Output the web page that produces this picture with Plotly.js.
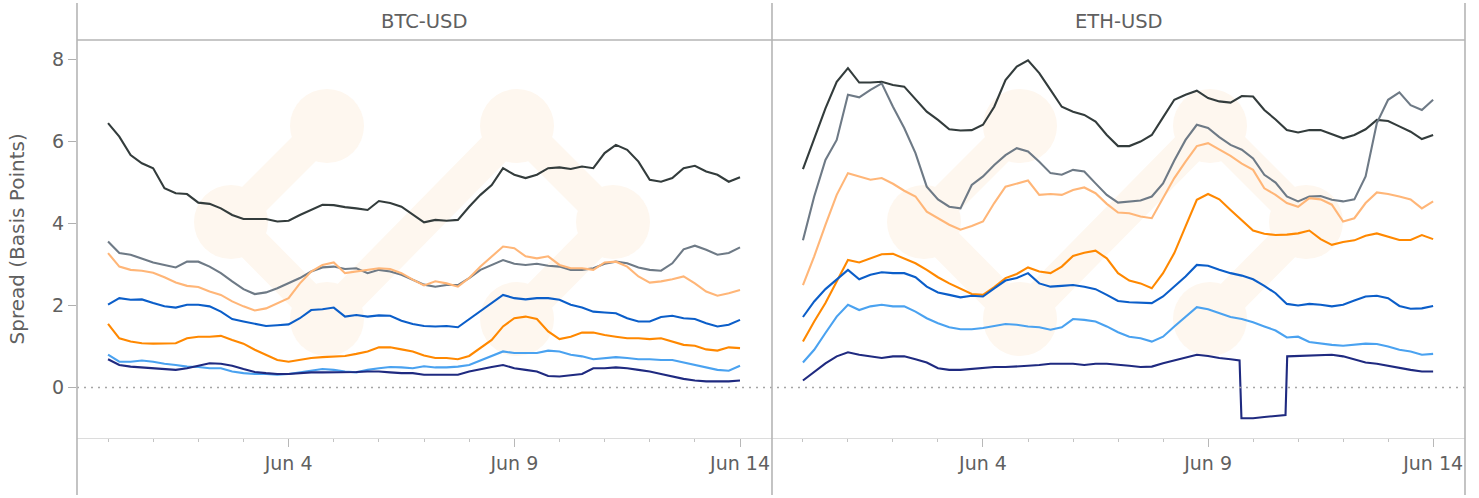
<!DOCTYPE html>
<html>
<head>
<meta charset="utf-8">
<script src="https://cdn.plot.ly/plotly-3.0.1.min.js"></script>
<style>html,body{margin:0;padding:0;background:#fff;}#chart{width:1479px;height:498px;}</style>
</head>
<body>
<div id="chart"></div>
<script>
// ---- Data (spread in basis points, sampled every 6 hours from May 31 00:00 to Jun 14 00:00) ----
const panels = ["BTC-USD", "ETH-USD"];
const seriesNames = ["Series 1", "Series 2", "Series 3", "Series 4", "Series 5", "Series 6", "Series 7"];
const seriesColors = ["#333c3c", "#6e7a86", "#ffb678", "#ff8800", "#0b5ec9", "#4aa2f0", "#1f2a80"];
const startDate = "2023-05-31";
const stepHours = 6;

const btcDark = [6.45,6.12,5.67,5.47,5.35,4.86,4.74,4.72,4.51,4.48,4.37,4.21,4.11,4.11,4.11,4.05,4.07,4.21,4.33,4.46,4.45,4.40,4.37,4.33,4.55,4.50,4.41,4.21,4.03,4.09,4.07,4.09,4.41,4.70,4.94,5.35,5.19,5.11,5.19,5.35,5.37,5.33,5.39,5.35,5.72,5.92,5.80,5.51,5.07,5.02,5.11,5.35,5.41,5.27,5.19,5.02,5.13];
const btcGray = [3.56,3.28,3.24,3.15,3.05,2.99,2.93,3.07,3.07,2.95,2.79,2.59,2.40,2.28,2.32,2.42,2.54,2.67,2.83,2.93,2.95,2.89,2.91,2.79,2.87,2.83,2.75,2.63,2.51,2.46,2.50,2.50,2.67,2.87,2.99,3.11,3.02,2.99,3.02,2.97,2.95,2.87,2.87,2.91,3.02,3.07,3.03,2.93,2.87,2.85,3.03,3.37,3.46,3.36,3.24,3.28,3.42];
const btcLightOrange = [3.28,2.95,2.87,2.85,2.80,2.69,2.56,2.48,2.45,2.34,2.26,2.10,1.98,1.88,1.93,2.06,2.18,2.54,2.83,2.99,3.05,2.79,2.83,2.87,2.91,2.89,2.79,2.63,2.49,2.59,2.54,2.46,2.67,2.95,3.20,3.44,3.40,3.20,3.15,3.20,2.99,2.91,2.91,2.87,3.05,3.07,2.95,2.71,2.56,2.59,2.64,2.71,2.54,2.34,2.24,2.30,2.38];
const btcOrange = [1.55,1.20,1.12,1.08,1.07,1.08,1.08,1.20,1.24,1.24,1.26,1.16,1.07,0.92,0.80,0.67,0.63,0.67,0.72,0.74,0.76,0.77,0.82,0.88,0.98,0.98,0.93,0.88,0.78,0.72,0.72,0.69,0.77,0.96,1.16,1.49,1.69,1.73,1.67,1.37,1.18,1.24,1.34,1.34,1.28,1.24,1.20,1.20,1.18,1.20,1.12,1.04,1.02,0.93,0.90,0.98,0.96];
const btcBlue = [2.02,2.18,2.14,2.15,2.06,1.98,1.95,2.02,2.02,1.98,1.85,1.67,1.61,1.55,1.50,1.52,1.54,1.69,1.89,1.91,1.95,1.73,1.77,1.73,1.76,1.75,1.63,1.55,1.50,1.49,1.50,1.47,1.67,1.85,2.06,2.26,2.18,2.15,2.18,2.18,2.14,2.02,1.95,1.85,1.83,1.81,1.69,1.61,1.61,1.72,1.75,1.69,1.67,1.57,1.49,1.53,1.65];
const btcLightBlue = [0.80,0.63,0.63,0.66,0.63,0.58,0.55,0.51,0.50,0.47,0.47,0.39,0.35,0.33,0.33,0.31,0.33,0.37,0.41,0.45,0.43,0.39,0.37,0.43,0.47,0.50,0.49,0.47,0.52,0.49,0.49,0.51,0.55,0.66,0.77,0.88,0.84,0.84,0.84,0.90,0.88,0.80,0.76,0.69,0.72,0.74,0.72,0.69,0.69,0.67,0.67,0.61,0.55,0.50,0.43,0.41,0.53];
const btcNavy = [0.69,0.55,0.51,0.49,0.47,0.45,0.43,0.47,0.53,0.59,0.58,0.53,0.45,0.38,0.35,0.33,0.33,0.35,0.37,0.37,0.37,0.37,0.38,0.39,0.39,0.37,0.35,0.35,0.31,0.31,0.31,0.31,0.39,0.45,0.50,0.55,0.47,0.43,0.39,0.28,0.27,0.30,0.33,0.47,0.47,0.49,0.47,0.43,0.39,0.33,0.27,0.21,0.17,0.15,0.15,0.15,0.17];

const ethDark = [5.33,6.08,6.81,7.46,7.79,7.44,7.44,7.46,7.38,7.34,7.03,6.73,6.53,6.30,6.27,6.28,6.41,6.85,7.50,7.83,7.98,7.67,7.26,6.85,6.73,6.65,6.49,6.16,5.89,5.89,6.00,6.16,6.59,7.02,7.14,7.24,7.06,6.98,6.95,7.11,7.10,6.77,6.54,6.28,6.22,6.28,6.28,6.18,6.08,6.16,6.30,6.53,6.50,6.37,6.24,6.06,6.16];
const ethGray = [3.59,4.66,5.55,6.04,7.14,7.08,7.26,7.42,6.85,6.33,5.72,4.90,4.59,4.41,4.37,4.94,5.15,5.43,5.67,5.84,5.76,5.51,5.23,5.19,5.31,5.27,4.98,4.70,4.51,4.54,4.56,4.66,4.98,5.54,6.04,6.41,6.33,6.11,5.92,5.80,5.59,5.19,5.00,4.66,4.54,4.66,4.67,4.58,4.54,4.59,5.15,6.45,7.02,7.20,6.89,6.77,7.02];
const ethLightOrange = [2.50,3.20,3.97,4.70,5.23,5.15,5.07,5.11,4.97,4.80,4.66,4.29,4.13,3.97,3.85,3.94,4.05,4.50,4.90,4.97,5.05,4.70,4.72,4.70,4.82,4.88,4.74,4.48,4.27,4.25,4.17,4.13,4.62,5.11,5.51,5.89,5.96,5.80,5.65,5.46,5.31,4.86,4.70,4.50,4.41,4.62,4.59,4.46,4.05,4.13,4.50,4.76,4.72,4.66,4.59,4.37,4.54];
const ethOrange = [1.12,1.61,2.06,2.59,3.11,3.05,3.15,3.25,3.26,3.15,3.03,2.87,2.69,2.54,2.40,2.28,2.26,2.45,2.67,2.77,2.93,2.83,2.79,2.95,3.21,3.29,3.34,3.15,2.79,2.61,2.54,2.42,2.79,3.28,3.93,4.58,4.72,4.59,4.33,4.09,3.83,3.75,3.72,3.73,3.76,3.83,3.62,3.48,3.55,3.59,3.70,3.76,3.68,3.60,3.60,3.72,3.62];
const ethBlue = [1.72,2.10,2.40,2.64,2.87,2.64,2.75,2.81,2.79,2.79,2.69,2.46,2.32,2.26,2.20,2.24,2.22,2.42,2.61,2.67,2.79,2.54,2.46,2.48,2.50,2.46,2.40,2.26,2.11,2.08,2.07,2.06,2.22,2.46,2.71,2.99,2.97,2.87,2.79,2.73,2.64,2.48,2.30,2.04,2.00,2.04,2.02,1.98,2.02,2.12,2.22,2.24,2.18,1.99,1.92,1.93,1.99];
const ethLightBlue = [0.61,0.92,1.33,1.73,2.02,1.89,1.98,2.02,1.98,1.98,1.85,1.69,1.57,1.47,1.42,1.42,1.45,1.50,1.55,1.53,1.49,1.47,1.41,1.47,1.67,1.65,1.61,1.49,1.35,1.24,1.20,1.12,1.24,1.49,1.73,1.96,1.91,1.81,1.72,1.67,1.59,1.49,1.39,1.22,1.24,1.11,1.07,1.04,1.02,1.04,1.07,1.06,1.00,0.92,0.88,0.80,0.82];
// ETH navy has its own (irregular) hour offsets to keep the sharp drop and recovery
const ethNavyHours = [0,6,12,18,24,30,36,42,48,54,60,66,72,78,84,90,96,102,108,114,120,126,132,138,144,150,156,162,168,174,180,186,192,198,204,210,216,222,228,232.8,233.8,240,246,252,257.3,258.2,264,270,276,282,288,294,300,306,312,318,324,330,336];
const ethNavy = [0.17,0.39,0.59,0.76,0.86,0.80,0.76,0.72,0.76,0.76,0.69,0.61,0.47,0.43,0.43,0.45,0.47,0.50,0.50,0.51,0.53,0.55,0.58,0.58,0.58,0.55,0.58,0.58,0.56,0.53,0.50,0.51,0.59,0.66,0.74,0.80,0.77,0.72,0.69,0.66,-0.75,-0.75,-0.72,-0.69,-0.67,0.76,0.77,0.78,0.78,0.80,0.76,0.69,0.61,0.58,0.53,0.47,0.43,0.39,0.39];

const yTickVals = [0, 2, 4, 6, 8];
const yTitle = "Spread (Basis Points)";

// ---- helpers ----
const startMs = Date.parse(startDate + "T00:00:00Z");
function hourToDate(h) {
  return new Date(startMs + h * 3600000).toISOString().slice(0, 19).replace("T", " ");
}
const gridTimes = btcDark.map((_, i) => hourToDate(i * stepHours));
const ethNavyTimes = ethNavyHours.map(hourToDate);

const btcSeries = [btcDark, btcGray, btcLightOrange, btcOrange, btcBlue, btcLightBlue, btcNavy];
const ethSeries = [ethDark, ethGray, ethLightOrange, ethOrange, ethBlue, ethLightBlue, ethNavy];

const traces = [];
btcSeries.forEach((ys, i) => traces.push({
  type: "scatter", mode: "lines", x: gridTimes, y: ys, name: seriesNames[i],
  xaxis: "x", yaxis: "y", line: { color: seriesColors[i], width: 2.1 }, hoverinfo: "skip"
}));
ethSeries.forEach((ys, i) => traces.push({
  type: "scatter", mode: "lines", x: (i === 6 ? ethNavyTimes : gridTimes), y: ys, name: seriesNames[i],
  xaxis: "x2", yaxis: "y", line: { color: seriesColors[i], width: 2.1 }, hoverinfo: "skip"
}));

// ---- geometry helpers (pixel -> paper) ----
const W = 1479, H = 498, ML = 77, MR = 14, MT = 40, MB = 60;
const PW = W - ML - MR, PH = H - MT - MB;
const px = v => (v - ML) / PW;
const py = v => (H - MB - v) / PH;
const split = px(772);

const frame = "#b5b5b5";
const shapes = [];
// watermark logo (decorative), one per panel
const wmColor = "rgb(254,247,239)";
const logoNodes = [[327,126],[231,222],[327,319],[517,126],[613,222],[517,319]];
const logoLinks = [[0,1],[1,2],[2,3],[3,4],[4,5]];
[0, 693].forEach(off => {
  logoLinks.forEach(([a, b]) => {
    shapes.push({ type: "line", xref: "paper", yref: "paper", layer: "below",
      x0: px(logoNodes[a][0] + off), y0: py(logoNodes[a][1]), x1: px(logoNodes[b][0] + off), y1: py(logoNodes[b][1]),
      line: { color: wmColor, width: 34 } });
  });
  logoNodes.forEach(([cx, cy]) => {
    const r = 37;
    shapes.push({ type: "circle", xref: "paper", yref: "paper", layer: "below",
      x0: px(cx + off - r), x1: px(cx + off + r), y0: py(cy + r), y1: py(cy - r),
      fillcolor: wmColor, line: { width: 0 } });
  });
});
// zero line
shapes.push({ type: "line", xref: "paper", yref: "y", x0: 0, x1: 1, y0: 0, y1: 0,
  line: { color: "#a5a5a5", width: 1.5, dash: "2px,5px" } });
// frame lines
[0, split, 1].forEach(x => shapes.push({ type: "line", xref: "paper", yref: "paper",
  x0: x, x1: x, y0: py(495), y1: py(3), line: { color: frame, width: 1.6 } }));
shapes.push({ type: "line", xref: "paper", yref: "paper", x0: 0, x1: 1, y0: 1, y1: 1,
  line: { color: frame, width: 1.6 } });

const tickFont = { family: "DejaVu Sans", size: 19, color: "#606060" };
const xRange = ["2023-05-30 07:30", "2023-06-14 17:00"];
function xAxis(domain) {
  return {
    type: "date", domain: domain, range: xRange, anchor: "y",
    showgrid: false, zeroline: false, showline: true, linecolor: "#dcdcdc", linewidth: 1,
    ticks: "outside", ticklen: 8, tickwidth: 1, tickcolor: "#b8b8b8",
    tick0: "2023-06-04", dtick: 5 * 86400000, tickformat: "%b %-d", tickfont: tickFont,
    minor: { ticks: "outside", ticklen: 3, tickwidth: 1, tickcolor: "#c4c4c4",
             tick0: "2023-05-31", dtick: 86400000, showgrid: false }
  };
}

const layout = {
  width: W, height: H,
  margin: { l: ML, r: MR, t: MT, b: MB, pad: 0 },
  paper_bgcolor: "#ffffff", plot_bgcolor: "#ffffff",
  showlegend: false, hovermode: false,
  font: { family: "DejaVu Sans", color: "#606060" },
  xaxis: xAxis([0, split]),
  xaxis2: xAxis([split, 1]),
  yaxis: {
    range: [-1.232, 8.478], tickvals: yTickVals, anchor: "x",
    showgrid: false, zeroline: false, showline: false,
    ticks: "outside", ticklen: 8, tickwidth: 1, tickcolor: "#b0b0b0", tickfont: tickFont
  },
  shapes: shapes,
  annotations: [
    { text: panels[0], xref: "paper", yref: "paper", x: split / 2, y: py(22), xanchor: "center", yanchor: "middle",
      showarrow: false, font: { family: "DejaVu Sans", size: 19.5, color: "#606060" } },
    { text: panels[1], xref: "paper", yref: "paper", x: (split + 1) / 2, y: py(22), xanchor: "center", yanchor: "middle",
      showarrow: false, font: { family: "DejaVu Sans", size: 19.5, color: "#606060" } },
    { text: yTitle, xref: "paper", yref: "paper", x: px(16.5), y: 0.5, xanchor: "center", yanchor: "middle",
      textangle: -90, showarrow: false, font: { family: "DejaVu Sans", size: 20, color: "#606060" } }
  ]
};

Plotly.newPlot("chart", traces, layout, { displayModeBar: false, staticPlot: true });
</script>
</body>
</html>
